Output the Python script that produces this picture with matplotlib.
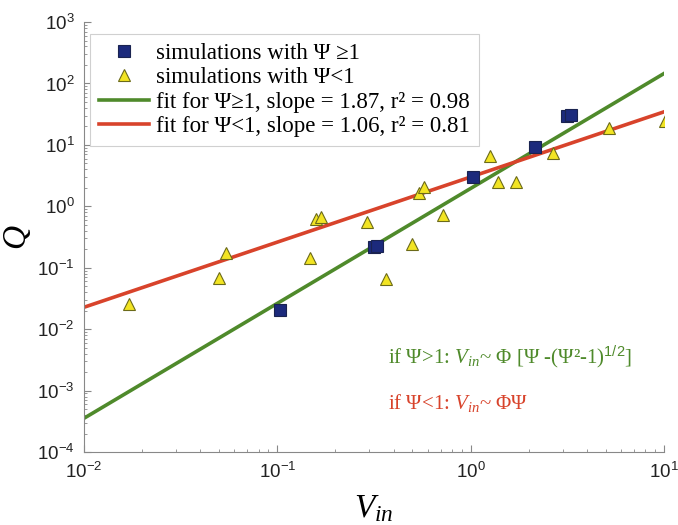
import numpy as np
import matplotlib
matplotlib.use("Agg")
import matplotlib.pyplot as plt
from matplotlib.ticker import LogLocator

plt.rcParams["font.family"] = ["Liberation Sans", "DejaVu Sans"]
plt.rcParams["mathtext.fontset"] = "custom"
plt.rcParams["mathtext.rm"] = "Liberation Sans"
plt.rcParams["mathtext.it"] = "Liberation Serif:italic"
plt.rcParams["mathtext.sf"] = "Liberation Sans"

# simulations with Psi >= 1
sq_x = [0.103, 0.315, 0.33, 1.03, 2.15, 3.15, 3.3]
sq_y = [0.0202, 0.22, 0.23, 2.95, 9.25, 29.0, 31.0]

# simulations with Psi < 1
tri_x = [0.0171, 0.0498, 0.0543, 0.147, 0.158, 0.169, 0.29, 0.366, 0.50,
         0.54, 0.577, 0.718, 1.26, 1.38, 1.71, 2.68, 5.2, 10.2]
tri_y = [0.0254, 0.069, 0.176, 0.144, 0.63, 0.67, 0.55, 0.065, 0.24,
         1.67, 2.06, 0.73, 6.5, 2.49, 2.49, 7.4, 19.1, 24.5]

# power-law fits Q = a * V^slope
fit_hi = {"a": 1.95, "slope": 1.87, "r2": 0.98}
fit_lo = {"a": 3.0, "slope": 1.06, "r2": 0.81}

GREEN = "#4f8a2b"
RED = "#d8432b"
NAVY = "#1c2a7c"
YELLOW = "#f2e423"

fig = plt.figure(figsize=(6.78, 5.25), dpi=100)
ax = fig.add_axes([0.124, 0.139, 0.855, 0.819])

xx = np.logspace(-2, 1, 200)
ax.plot(xx, fit_hi["a"] * xx ** fit_hi["slope"], color=GREEN, lw=2.6,
        label=f"fit for \u03a8\u22651, slope = {fit_hi['slope']:.2f}, r\u00b2 = {fit_hi['r2']:.2f}",
        zorder=2)
ax.plot(xx, fit_lo["a"] * xx ** fit_lo["slope"], color=RED, lw=2.6,
        label=f"fit for \u03a8<1, slope = {fit_lo['slope']:.2f}, r\u00b2 = {fit_lo['r2']:.2f}",
        zorder=2)
ax.plot(sq_x, sq_y, ls="none", marker="s", ms=9, mfc=NAVY, mec="#1a2350",
        mew=0.8, label="simulations with \u03a8 \u22651", zorder=3)
ax.plot(tri_x, tri_y, ls="none", marker="^", ms=8, mfc=YELLOW, mec="#6b6a1a",
        mew=0.8, label="simulations with \u03a8<1", zorder=3)

ax.set_xscale("log")
ax.set_yscale("log")
ax.set_xlim(1e-2, 1e1)
ax.set_ylim(1e-4, 1e3)
ax.yaxis.set_major_locator(LogLocator(base=10, numticks=20))
ax.yaxis.set_minor_locator(LogLocator(base=10, subs=np.arange(2, 10), numticks=20))

for s in ("top", "right"):
    ax.spines[s].set_visible(False)
for s in ("left", "bottom"):
    ax.spines[s].set_color("#888888")
    ax.spines[s].set_linewidth(0.8)
ax.tick_params(which="both", direction="in", colors="#888888", labelcolor="#222222")
ax.tick_params(which="major", length=5, labelsize=13.5, pad=7)
ax.tick_params(which="minor", length=2.5)

ax.set_xlabel(r"$V_{in}$", fontsize=24, labelpad=8)
ax.set_ylabel(r"$Q$", fontsize=24, labelpad=3, rotation=90)

handles, labels = ax.get_legend_handles_labels()
order = [2, 3, 0, 1]
leg = ax.legend([handles[i] for i in order], [labels[i] for i in order],
                loc="upper left", bbox_to_anchor=(0.010, 0.973),
                borderaxespad=0.0,
                prop={"family": "Liberation Serif", "size": 16.5},
                numpoints=1, handlelength=2.2, handletextpad=0.3,
                labelspacing=0.15, borderpad=0.4, fancybox=False,
                framealpha=1.0, edgecolor="#d0d0d0")
leg.get_frame().set_linewidth(0.8)

ax.text(0.524, 0.221, "if \u03a8>1: $V_{in}$~ \u03a6 [\u03a8 -(\u03a8\u00b2-1)$^{1/2}$]",
        transform=ax.transAxes, color=GREEN, fontsize=15,
        family="Liberation Serif", va="center")
ax.text(0.524, 0.114, "if \u03a8<1: $V_{in}$~ \u03a6\u03a8",
        transform=ax.transAxes, color=RED, fontsize=15,
        family="Liberation Serif", va="center")

fig.savefig("out.png", dpi=100)
